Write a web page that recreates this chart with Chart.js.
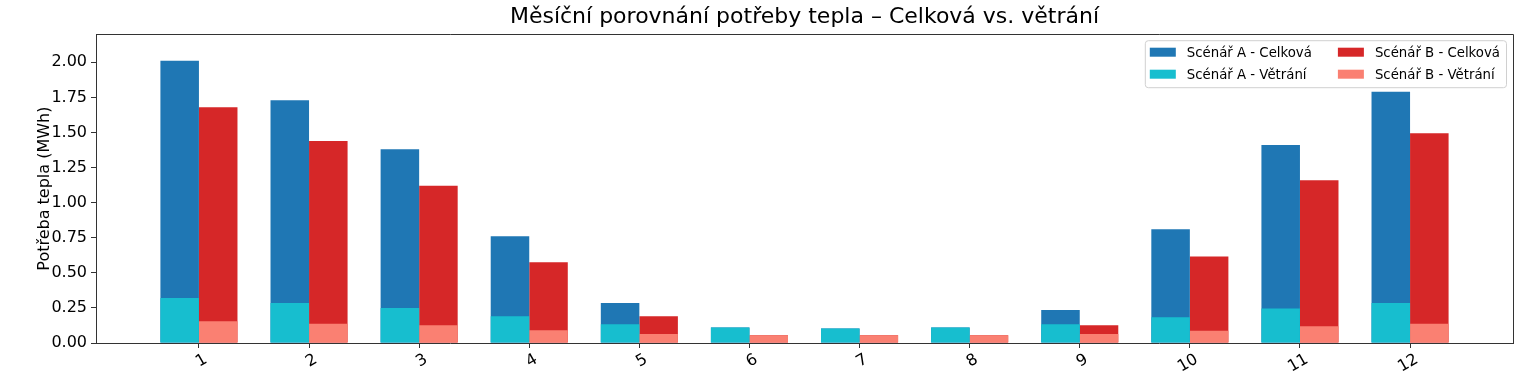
<!DOCTYPE html>
<html>
<head>
<meta charset="utf-8">
<script src="https://cdn.jsdelivr.net/npm/chart.js@4/dist/chart.umd.min.js"></script>
<style>
    html, body { margin: 0; padding: 0; background: #fff; }
    #wrap { width: 1528px; height: 378px; }
</style>
</head>
<body>
<div id="wrap"><canvas id="heatChart" width="1528" height="378"></canvas></div>
<script>
const months = [1, 2, 3, 4, 5, 6, 7, 8, 9, 10, 11, 12];
const scenarioATotal = [2.01, 1.73, 1.38, 0.76, 0.285, 0.11, 0.104, 0.11, 0.235, 0.81, 1.41, 1.79];
const scenarioAVent = [0.32, 0.285, 0.25, 0.19, 0.133, 0.11, 0.104, 0.11, 0.133, 0.183, 0.245, 0.285];
const scenarioBTotal = [1.68, 1.44, 1.12, 0.575, 0.19, 0.055, 0.055, 0.055, 0.126, 0.617, 1.16, 1.495];
const scenarioBVent = [0.155, 0.137, 0.126, 0.091, 0.064, 0.055, 0.055, 0.055, 0.064, 0.088, 0.12, 0.137];
const yTicks = [0, 0.25, 0.5, 0.75, 1.0, 1.25, 1.5, 1.75, 2.0];

const FONT = '"DejaVu Sans", sans-serif';
const AXIS_COLOR = '#333';

const toPoints = (values) => values.map((v, i) => ({ x: months[i], y: v }));

// matplotlib-style legend box, 2 columns, top right inside the axes
const boxLegend = {
    id: 'boxLegend',
    afterDatasetsDraw(chart) {
        const { ctx, chartArea } = chart;
        const items = chart.data.datasets.map(d => ({ label: d.label, color: d.backgroundColor }));
        const cols = [items.slice(0, 2), items.slice(2, 4)];
        ctx.save();
        ctx.font = '13.3px ' + FONT;
        const widths = cols.map(c => Math.max(...c.map(it => ctx.measureText(it.label).width)));
        const patchW = 26, patchH = 9, gap = 11, colGap = 26, padL = 5, padR = 6;
        const boxW = padL + patchW + gap + widths[0] + colGap + patchW + gap + widths[1] + padR;
        const boxH = 47;
        const x0 = chartArea.right - 7 - boxW;
        const y0 = chartArea.top + 6;
        ctx.fillStyle = 'rgba(255,255,255,0.8)';
        ctx.strokeStyle = '#d0d0d0';
        ctx.lineWidth = 1;
        ctx.beginPath();
        ctx.roundRect(x0 + 0.5, y0 + 0.5, boxW, boxH, 3);
        ctx.fill();
        ctx.stroke();
        ctx.textBaseline = 'middle';
        ctx.textAlign = 'left';
        let cx = x0 + padL;
        cols.forEach((col, ci) => {
            col.forEach((it, ri) => {
                const cy = y0 + 12 + ri * 22;
                ctx.fillStyle = it.color;
                ctx.fillRect(cx, cy - patchH / 2, patchW, patchH);
                ctx.fillStyle = '#000';
                ctx.fillText(it.label, cx + patchW + gap, cy + 1);
            });
            cx += patchW + gap + widths[ci] + colGap;
        });
        ctx.restore();
    }
};

// top and right spines
const frame = {
    id: 'frame',
    afterDraw(chart) {
        const { ctx, chartArea } = chart;
        ctx.save();
        ctx.strokeStyle = AXIS_COLOR;
        ctx.lineWidth = 1;
        ctx.beginPath();
        ctx.moveTo(Math.round(chartArea.left) + 0.5, Math.round(chartArea.top) + 0.5);
        ctx.lineTo(Math.round(chartArea.right) + 0.5, Math.round(chartArea.top) + 0.5);
        ctx.lineTo(Math.round(chartArea.right) + 0.5, Math.round(chartArea.bottom) + 0.5);
        ctx.stroke();
        ctx.restore();
    }
};

new Chart(document.getElementById('heatChart'), {
    type: 'bar',
    data: {
        datasets: [
            { label: 'Scénář A - Celková', data: toPoints(scenarioATotal), backgroundColor: '#1f77b4', stack: 'A', order: 1 },
            { label: 'Scénář A - Větrání', data: toPoints(scenarioAVent), backgroundColor: '#17becf', stack: 'A', order: 0 },
            { label: 'Scénář B - Celková', data: toPoints(scenarioBTotal), backgroundColor: '#d62728', stack: 'B', order: 1 },
            { label: 'Scénář B - Větrání', data: toPoints(scenarioBVent), backgroundColor: '#fa8072', stack: 'B', order: 0 }
        ]
    },
    options: {
        responsive: false,
        animation: false,
        devicePixelRatio: 1,
        layout: { padding: { left: 0, right: 15, top: 0, bottom: 0 } },
        categoryPercentage: 0.7,
        barPercentage: 1.0,
        plugins: {
            legend: { display: false },
            tooltip: { enabled: false },
            title: {
                display: true,
                fullSize: false,
                text: 'Měsíční porovnání potřeby tepla – Celková vs. větrání',
                color: '#000',
                font: { family: FONT, size: 22, weight: 'normal', lineHeight: 1.1 },
                padding: { top: 5, bottom: 5 }
            }
        },
        scales: {
            x: {
                type: 'linear',
                stacked: true,
                min: 0.065,
                max: 12.935,
                offset: false,
                afterBuildTicks: (scale) => { scale.ticks = months.map(v => ({ value: v })); },
                afterFit: (scale) => { scale.height = 35; },
                ticks: {
                    color: '#000',
                    font: { family: FONT, size: 16 },
                    minRotation: 30,
                    maxRotation: 30,
                    padding: 2,
                    labelOffset: 7,
                    callback: (v) => String(v)
                },
                grid: { display: true, offset: false, drawOnChartArea: false, drawTicks: true, tickLength: 5, color: AXIS_COLOR },
                border: { display: true, color: AXIS_COLOR, width: 1 }
            },
            y: {
                stacked: false,
                min: 0,
                max: 2.2,
                afterBuildTicks: (scale) => { scale.ticks = yTicks.map(v => ({ value: v })); },
                afterFit: (scale) => { scale.width = 96; },
                ticks: {
                    color: '#000',
                    font: { family: FONT, size: 16 },
                    padding: 4,
                    callback: (v) => Number(v).toFixed(2)
                },
                title: {
                    display: true,
                    text: 'Potřeba tepla (MWh)',
                    color: '#000',
                    font: { family: FONT, size: 16 },
                    padding: { top: 35, bottom: 0 }
                },
                grid: { display: true, drawOnChartArea: false, drawTicks: true, tickLength: 5, color: AXIS_COLOR },
                border: { display: true, color: AXIS_COLOR, width: 1 }
            }
        }
    },
    plugins: [boxLegend, frame]
});
</script>
</body>
</html>
